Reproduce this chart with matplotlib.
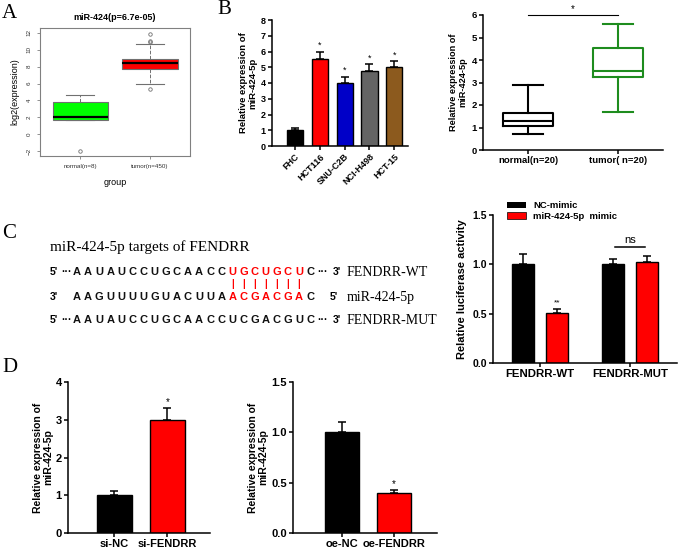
import matplotlib
matplotlib.use("Agg")
import numpy as np
from matplotlib import pyplot as plt

# ---- data ----
# A: TCGA boxplot
tcga_groups = ["normal(n=8)", "tumor(n=450)"]
tcga_q1 = [1.7, 7.7]
tcga_med = [2.0, 8.4]
tcga_q3 = [3.8, 8.95]
tcga_lo = [1.7, 6.0]
tcga_hi = [4.65, 10.7]
tcga_out = [[-2.0], [5.3, 10.9, 11.05, 11.85]]

# B: cell lines
cell_lines = ["FHC", "HCT116", "SNU-C2B", "NCI-H498", "HCT-15"]
cell_expr = [1.0, 5.5, 4.0, 4.78, 5.0]
cell_err = [0.12, 0.5, 0.4, 0.42, 0.4]
cell_colors = ["#000000", "#ff0000", "#0000c8", "#646464", "#8c5a1e"]

# B: tissue boxplot
tissue_groups = ["normal(n=20)", "tumor( n=20)"]
tissue_q1 = [1.05, 3.25]
tissue_med = [1.3, 3.5]
tissue_q3 = [1.65, 4.55]
tissue_lo = [0.7, 1.7]
tissue_hi = [2.9, 5.6]

# C: luciferase
luc_groups = ["FENDRR-WT", "FENDRR-MUT"]
luc_nc = [1.0, 1.0]
luc_nc_err = [0.1, 0.05]
luc_mimic = [0.51, 1.02]
luc_mimic_err = [0.04, 0.06]

# C: sequences
seq_wt = "AAUAUCCUGCAACCUGCUGCUC"
seq_mir = "AAGUUUUGUACUUAACGACGAC"
seq_mut = "AAUAUCCUGCAACCUCGACGUC"
seed = range(14, 21)

# D
si_groups = ["si-NC", "si-FENDRR"]
si_expr = [1.0, 3.0]
si_err = [0.1, 0.3]
oe_groups = ["oe-NC", "oe-FENDRR"]
oe_expr = [1.0, 0.4]
oe_err = [0.1, 0.03]

W, H = 680, 552
plt.rcParams["font.family"] = "Liberation Sans"
fig = plt.figure(figsize=(W / 100, H / 100), dpi=100)


def box(x0, y0, x1, y1):
    return fig.add_axes([x0 / W, 1 - y1 / H, (x1 - x0) / W, (y1 - y0) / H])


def ftext(x, y, s, **kw):
    fig.text(x / W, 1 - y / H, s, **kw)


def prism(ax, fs=6.5):
    for s in ["top", "right"]:
        ax.spines[s].set_visible(False)
    for s in ["left", "bottom"]:
        ax.spines[s].set_linewidth(1.1)
    ax.tick_params(direction="out", length=3, width=1.1, labelsize=fs, pad=1.5)
    for lab in ax.get_xticklabels() + ax.get_yticklabels():
        lab.set_fontweight("bold")


def bars(ax, x, vals, errs, colors, width):
    ax.bar(x, vals, width=width, color=colors, edgecolor="black", linewidth=1.0, zorder=2)
    ax.errorbar(x, vals, yerr=[np.zeros(len(vals)), errs], fmt="none", ecolor="black",
                elinewidth=1.1, capsize=3, capthick=1.1, zorder=1)


for lab, x, y, fs in [("A", 9, 13, 15), ("B", 224, 10, 15), ("C", 9, 233, 15), ("D", 10, 368, 15)]:
    ftext(x, y, lab, fontsize=fs, family="Liberation Serif", ha="center", va="center")

# ---- A ----
axA = box(40, 28, 190, 156)
statsA = [dict(med=m, q1=a, q3=b, whislo=lo, whishi=hi, fliers=f, label=g)
          for g, a, m, b, lo, hi, f in zip(tcga_groups, tcga_q1, tcga_med, tcga_q3, tcga_lo, tcga_hi, tcga_out)]
bpA = axA.bxp(statsA, positions=[1, 2], widths=0.8, patch_artist=True,
              boxprops=dict(edgecolor="#707070", linewidth=0.8),
              whiskerprops=dict(color="#707070", linestyle="--", linewidth=0.7),
              capprops=dict(color="#707070", linewidth=0.8),
              medianprops=dict(color="black", linewidth=1.6),
              flierprops=dict(marker="o", markerfacecolor="none", markeredgecolor="#707070",
                              markersize=2.5, markeredgewidth=0.6))
for p, c in zip(bpA["boxes"], ["#00ff00", "#ff0000"]):
    p.set_facecolor(c)
axA.set_xlim(0.42, 2.58)
axA.set_ylim(-2.56, 12.56)
axA.set_yticks([-2, 0, 2, 4, 6, 8, 10, 12])
for s in axA.spines.values():
    s.set_color("#808080")
    s.set_linewidth(0.8)
axA.tick_params(colors="#808080", labelcolor="#333333", labelsize=4.5, length=2.5, width=0.6)
plt.setp(axA.get_yticklabels(), rotation=90, va="center")
axA.set_title("miR-424(p=6.7e-05)", fontsize=6.5, fontweight="bold", pad=6)
axA.set_xlabel("group", fontsize=6.5, labelpad=6)
axA.set_ylabel("log2(expression)", fontsize=6.5, labelpad=5)

# ---- B bars ----
axB = box(272, 20, 408, 146)
xB = np.arange(len(cell_lines))
bars(axB, xB, cell_expr, cell_err, cell_colors, 0.65)
for x, v, e in zip(xB[1:], cell_expr[1:], cell_err[1:]):
    axB.text(x, v + e + 0.1, "*", ha="center", va="bottom", fontsize=6.5)
axB.set_xlim(-0.92, 4.55)
axB.set_ylim(0, 8)
axB.set_yticks(range(0, 9))
axB.set_xticks(xB)
axB.set_xticklabels(cell_lines, rotation=45, ha="right", rotation_mode="anchor")
prism(axB, 6.5)
axB.set_ylabel("Relative expression of\nmiR-424-5p", fontsize=6.8, fontweight="bold", linespacing=1.05)
axB.yaxis.set_label_coords(-0.11, 0.5)

# ---- B box ----
axT = box(483, 15, 663, 150)
statsT = [dict(med=m, q1=a, q3=b, whislo=lo, whishi=hi, fliers=[], label=g)
          for g, a, m, b, lo, hi in zip(tissue_groups, tissue_q1, tissue_med, tissue_q3, tissue_lo, tissue_hi)]
bpT = axT.bxp(statsT, positions=[0, 1], widths=0.55, capwidths=0.33, patch_artist=False)
for i, c in enumerate(["black", "#1e8c1e"]):
    for art in [bpT["boxes"][i], bpT["medians"][i]] + bpT["whiskers"][2 * i:2 * i + 2] + bpT["caps"][2 * i:2 * i + 2]:
        art.set_color(c)
        art.set_linewidth(1.5)
axT.set_xlim(-0.5, 1.5)
axT.set_ylim(0, 6)
axT.plot([0, 1], [6.0, 6.0], color="black", linewidth=0.8, clip_on=False)
axT.text(0.5, 6.02, "*", ha="center", va="bottom", fontsize=7)
prism(axT, 6.8)
axT.set_ylabel("Relative expression of\nmiR-424-5p", fontsize=6.6, fontweight="bold", linespacing=1.05)
axT.yaxis.set_label_coords(-0.085, 0.5)

# ---- C sequences ----
ftext(50, 247, "miR-424-5p targets of FENDRR", fontsize=11, family="Liberation Serif", va="center")
x0, dx = 77, 11.1
rows = [(272, "5'", seq_wt, "3'", True), (297, "3'", seq_mir, "5'", False), (320, "5'", seq_mut, "3'", True)]
for y, left, seq, right, dots in rows:
    ftext(54, y, left, fontsize=7.5, fontweight="bold", ha="center", va="center")
    ftext(337 if dots else 334, y, right, fontsize=7.5, fontweight="bold", ha="center", va="center")
    if dots:
        ftext(66, y, "\u00b7\u00b7\u00b7", fontsize=7.5, fontweight="bold", ha="center", va="center")
        ftext(322, y, "\u00b7\u00b7\u00b7", fontsize=7.5, fontweight="bold", ha="center", va="center")
    for i, ch in enumerate(seq):
        red = (seq is not seq_mut) and i in seed
        ftext(x0 + i * dx, y, ch, fontsize=8, fontweight="bold", ha="center", va="center",
              color="#ff0000" if red else "#111111")
for i in seed:
    ftext(x0 + i * dx, 284, "|", fontsize=7, fontweight="bold", ha="center", va="center", color="#ff0000")
for y, s in [(272, "FENDRR-WT"), (297, "miR-424-5p"), (320, "FENDRR-MUT")]:
    ftext(347, y, s, fontsize=10, family="Liberation Serif", va="center")

# ---- C luciferase ----
axL = box(493, 215, 677, 363)
xL = np.arange(len(luc_groups))
off = 0.19
bars(axL, xL - off, luc_nc, luc_nc_err, "black", 0.24)
bars(axL, xL + off, luc_mimic, luc_mimic_err, "#ff0000", 0.24)
axL.text(0 + off, luc_mimic[0] + luc_mimic_err[0] + 0.02, "**", ha="center", va="bottom", fontsize=6)
axL.plot([1 - 0.17, 1 + 0.17], [1.18, 1.18], color="black", linewidth=1.1)
axL.text(1, 1.2, "ns", ha="center", va="bottom", fontsize=8)
axL.set_xlim(-0.52, 1.52)
axL.set_ylim(0, 1.5)
axL.set_yticks([0, 0.5, 1.0, 1.5])
axL.set_xticks(xL)
axL.set_xticklabels(luc_groups)
prism(axL, 7.5)
axL.tick_params(axis="x", labelsize=8.2)
axL.set_ylabel("Relative luciferase activity", fontsize=8, fontweight="bold")
axL.yaxis.set_label_coords(-0.14, 0.5)
axL.legend([plt.Rectangle((0, 0), 1, 1, fc="black"), plt.Rectangle((0, 0), 1, 1, fc="#ff0000", ec="black", lw=0.5)],
           ["NC-mimic", "miR-424-5p  mimic"], loc="lower left", bbox_to_anchor=(0.05, 0.93),
           frameon=False, prop=dict(weight="bold", size=6.8), handlelength=2.0, handleheight=0.7,
           labelspacing=0.15, borderpad=0, handletextpad=0.8)

# ---- D ----
axS = box(68, 382, 210, 533)
xS = np.arange(len(si_groups))
bars(axS, xS, si_expr, si_err, ["black", "#ff0000"], 0.66)
axS.text(1, si_expr[1] + si_err[1] + 0.03, "*", ha="center", va="bottom", fontsize=7)
axS.set_xlim(-0.87, 1.8)
axS.set_ylim(0, 4)
axS.set_yticks(range(0, 5))
axS.set_xticks(xS)
axS.set_xticklabels(si_groups)
prism(axS, 8)
axS.set_ylabel("Relative expression of\nmiR-424-5p", fontsize=7.5, fontweight="bold", linespacing=1.05)
axS.yaxis.set_label_coords(-0.105, 0.5)

axO = box(293, 382, 437, 533)
xO = np.arange(len(oe_groups))
bars(axO, xO, oe_expr, oe_err, ["black", "#ff0000"], 0.66)
axO.text(1, oe_expr[1] + oe_err[1] + 0.01, "*", ha="center", va="bottom", fontsize=7)
axO.set_xlim(-0.94, 1.82)
axO.set_ylim(0, 1.5)
axO.set_yticks([0, 0.5, 1.0, 1.5])
axO.set_xticks(xO)
axO.set_xticklabels(oe_groups)
prism(axO, 8)
axO.set_ylabel("Relative expression of\nmiR-424-5p", fontsize=7.5, fontweight="bold", linespacing=1.05)
axO.yaxis.set_label_coords(-0.17, 0.5)

fig.savefig("out.png", dpi=100)
